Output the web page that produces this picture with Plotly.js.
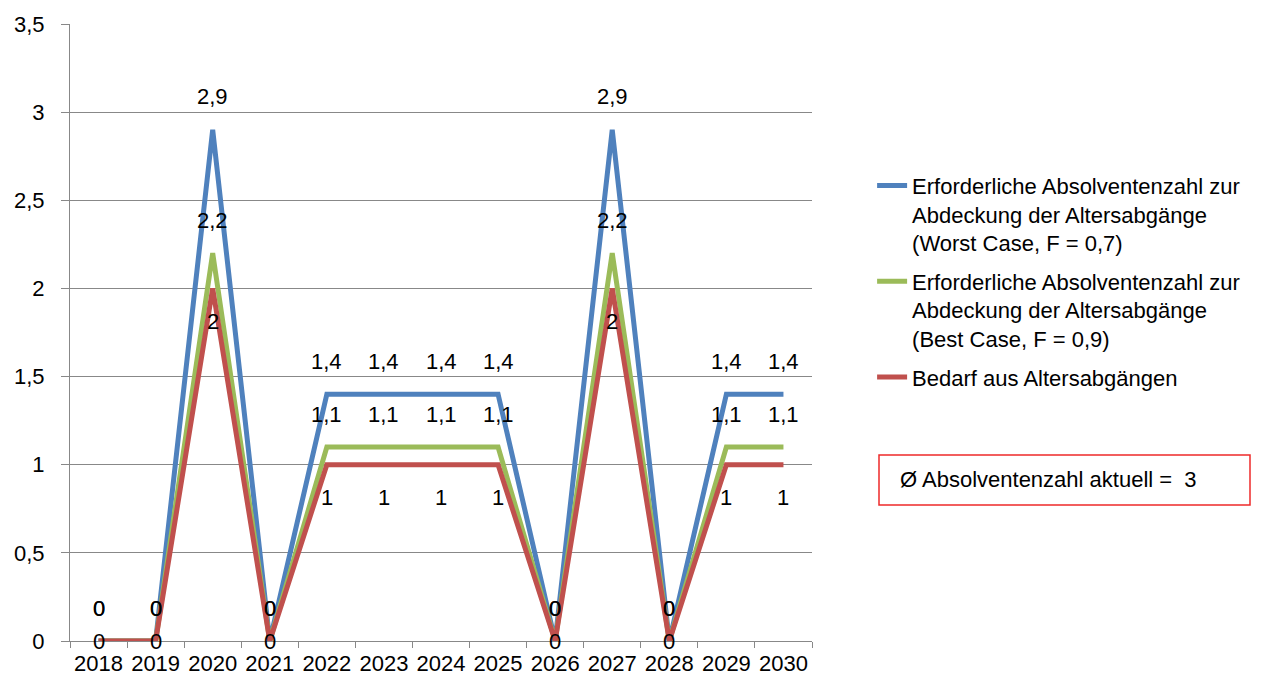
<!DOCTYPE html>
<html>
<head>
<meta charset="utf-8">
<script src="https://cdn.plot.ly/plotly-3.0.1.min.js"></script>
<style>html,body{margin:0;padding:0;background:#fff;}#chart{width:1284px;height:679px;}</style>
</head>
<body>
<div id="chart"></div>
<script>
const years = ['2018','2019','2020','2021','2022','2023','2024','2025','2026','2027','2028','2029','2030'];
const worstCase = [0,0,2.9,0,1.4,1.4,1.4,1.4,0,2.9,0,1.4,1.4];
const bestCase  = [0,0,2.2,0,1.1,1.1,1.1,1.1,0,2.2,0,1.1,1.1];
const bedarf    = [0,0,2,0,1,1,1,1,0,2,0,1,1];
const seriesNames = [
  'Erforderliche Absolventenzahl zur<br>Abdeckung der Altersabgänge<br>(Worst Case, F = 0,7)',
  'Erforderliche Absolventenzahl zur<br>Abdeckung der Altersabgänge<br>(Best Case, F = 0,9)',
  'Bedarf aus Altersabgängen'
];
const boxText = 'Ø Absolventenzahl aktuell =\u00a0\u00a03';

const FONT = 'Liberation Sans, Arial, sans-serif';
const FS = 22;
const fmt = v => String(v).replace('.', ',');

function trace(y, name, color, group) {
  return {
    x: years, y: y, name: name, type: 'scatter', mode: 'lines',
    legendgroup: group,
    line: {color: color, width: 5},
    hoverinfo: 'skip'
  };
}

const data = [
  trace(worstCase, seriesNames[0], '#4F81BD', 'g1'),
  trace(bestCase, seriesNames[1], '#9BBB59', 'g2'),
  trace(bedarf, seriesNames[2], '#C0504D', 'g3')
];

// data labels, placed through the axes (category index + data value)
function labels(y, shiftFn) {
  return y.map((v, i) => ({
    xref: 'x', yref: 'y', x: i, y: v,
    text: fmt(v), showarrow: false,
    xanchor: 'center', yanchor: 'middle',
    yshift: shiftFn(v),
    font: {family: FONT, size: FS, color: '#000'}
  }));
}
const annotations = [].concat(
  labels(worstCase, v => 33),
  labels(bestCase, v => 33),
  labels(bedarf, v => v === 0 ? 0 : -33)
);
annotations.push({
  xref: 'paper', yref: 'paper', x: (898-70)/742, y: (641-480)/617,
  xanchor: 'left', yanchor: 'middle', showarrow: false,
  text: boxText, font: {family: FONT, size: FS, color: '#000'}
});

const layout = {
  width: 1284, height: 679,
  margin: {l: 70, r: 472, t: 24, b: 38},
  paper_bgcolor: '#fff', plot_bgcolor: '#fff',
  separators: ',.',
  font: {family: FONT, size: FS, color: '#000'},
  showlegend: true,
  legend: {
    x: 1.081, xanchor: 'left', y: 0.772, yanchor: 'top',
    valign: 'top', traceorder: 'grouped', tracegroupgap: 7,
    font: {family: FONT, size: FS, color: '#000'},
    bgcolor: 'rgba(0,0,0,0)'
  },
  xaxis: {
    type: 'category', range: [-0.5, 12.5],
    showgrid: false, showline: true, linecolor: '#888888', linewidth: 1,
    ticks: 'outside', tickson: 'boundaries', ticklen: 6, tickcolor: '#888888',
    tickangle: 0, ticklabelstandoff: 3,
    tickfont: {family: FONT, size: FS, color: '#000'},
    zeroline: false, fixedrange: true
  },
  yaxis: {
    range: [0, 3.5], dtick: 0.5, tick0: 0,
    showgrid: true, gridcolor: '#888888', gridwidth: 1,
    showline: true, linecolor: '#888888', linewidth: 1,
    ticks: 'outside', ticklen: 8, tickcolor: '#888888',
    ticklabelstandoff: 12,
    tickfont: {family: FONT, size: FS, color: '#000'},
    zeroline: false, fixedrange: true
  },
  shapes: [{
    type: 'rect', xref: 'paper', yref: 'paper',
    x0: (879-70)/742, x1: (1250-70)/742, y0: (641-505)/617, y1: (641-455)/617,
    line: {color: '#EE2A2A', width: 1.5}, fillcolor: 'rgba(0,0,0,0)'
  }],
  annotations: annotations
};

Plotly.newPlot('chart', data, layout, {displayModeBar: false, staticPlot: true});
</script>
</body>
</html>
